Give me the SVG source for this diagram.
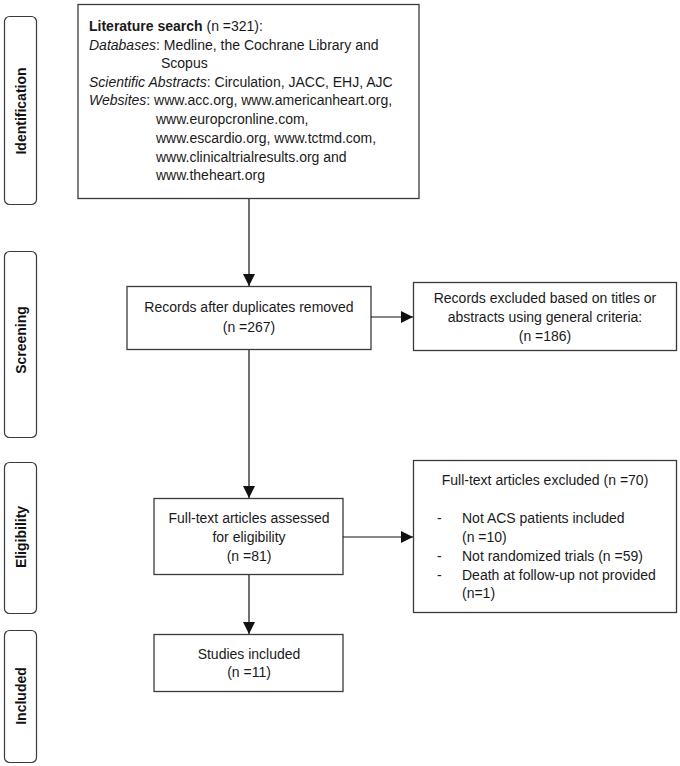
<svg xmlns="http://www.w3.org/2000/svg" width="680" height="766" viewBox="0 0 680 766">
<style>
.box{fill:#fff;stroke:#3a3a3a;stroke-width:1.3}
.side{fill:#fff;stroke:#3a3a3a;stroke-width:1.2}
.t{font-family:"Liberation Sans",Arial,sans-serif;font-size:14px;fill:#1a1a1a}
.c{text-anchor:middle}
.lab{font-family:"Liberation Sans",Arial,sans-serif;font-size:14px;font-weight:bold;fill:#111;text-anchor:middle}
.con{stroke:#111;stroke-width:1.2;fill:none;marker-end:url(#ah)}
</style>
<defs>
<marker id="ah" markerUnits="userSpaceOnUse" markerWidth="12" markerHeight="12" viewBox="0 0 12 12" refX="12" refY="6" orient="auto">
<path d="M0,0 L12,6 L0,12 Z" fill="#111"/>
</marker>
</defs>
<rect width="680" height="766" fill="#fff"/>

<g id="side-identification">
<rect class="side" x="4.5" y="16.5" width="32" height="188" rx="5"/>
<text class="lab" transform="translate(26,111) rotate(-90)">Identification</text>
</g>
<g id="side-screening">
<rect class="side" x="4.5" y="251.5" width="32" height="186" rx="5"/>
<text class="lab" transform="translate(26,340) rotate(-90)">Screening</text>
</g>
<g id="side-eligibility">
<rect class="side" x="4.5" y="462.5" width="32" height="151" rx="5"/>
<text class="lab" transform="translate(26,537) rotate(-90)">Eligibility</text>
</g>
<g id="side-included">
<rect class="side" x="4.5" y="630.5" width="32" height="132" rx="5"/>
<text class="lab" transform="translate(26,696) rotate(-90)">Included</text>
</g>

<g id="literature">
<rect class="box" x="78" y="4.5" width="341" height="194"/>
<text class="t" x="89" y="31"><tspan font-weight="bold">Literature search</tspan> (n =321):</text>
<text class="t" x="89" y="50"><tspan font-style="italic">Databases</tspan>: Medline, the Cochrane Library and</text>
<text class="t" x="161" y="68">Scopus</text>
<text class="t" x="89" y="87"><tspan font-style="italic">Scientific Abstracts</tspan>: Circulation, JACC, EHJ, AJC</text>
<text class="t" x="89" y="105"><tspan font-style="italic">Websites</tspan>: www.acc.org, www.americanheart.org,</text>
<text class="t" x="156" y="124">www.europcronline.com,</text>
<text class="t" x="156" y="143">www.escardio.org, www.tctmd.com,</text>
<text class="t" x="156" y="162">www.clinicaltrialresults.org and</text>
<text class="t" x="156" y="180">www.theheart.org</text>
</g>

<g id="records">
<rect class="box" x="127" y="286.5" width="244" height="63"/>
<text class="t c" x="249" y="312">Records after duplicates removed</text>
<text class="t c" x="249" y="332">(n =267)</text>
</g>

<g id="excluded1">
<rect class="box" x="413.5" y="282.5" width="263" height="68"/>
<text class="t c" x="545" y="303">Records excluded based on titles or</text>
<text class="t c" x="545" y="322">abstracts using general criteria:</text>
<text class="t c" x="545" y="341">(n =186)</text>
</g>

<g id="fulltext">
<rect class="box" x="154" y="498.5" width="189" height="76"/>
<text class="t c" x="249" y="523">Full-text articles assessed</text>
<text class="t c" x="249" y="542">for eligibility</text>
<text class="t c" x="249" y="561">(n =81)</text>
</g>

<g id="excluded2">
<rect class="box" x="413.5" y="460.5" width="263" height="152"/>
<text class="t c" x="545" y="485">Full-text articles excluded (n =70)</text>
<text class="t" x="437" y="523">-</text>
<text class="t" x="462" y="523">Not ACS patients included</text>
<text class="t" x="462" y="542">(n =10)</text>
<text class="t" x="437" y="561">-</text>
<text class="t" x="462" y="561">Not randomized trials (n =59)</text>
<text class="t" x="437" y="580">-</text>
<text class="t" x="462" y="580">Death at follow-up not provided</text>
<text class="t" x="462" y="598">(n=1)</text>
</g>

<g id="studies">
<rect class="box" x="154" y="634.5" width="189" height="57"/>
<text class="t c" x="249" y="659">Studies included</text>
<text class="t c" x="249" y="677">(n =11)</text>
</g>

<g id="connectors">
<line class="con" x1="249" y1="199" x2="249" y2="286"/>
<line class="con" x1="371" y1="317" x2="413" y2="317"/>
<line class="con" x1="249" y1="350" x2="249" y2="498"/>
<line class="con" x1="343" y1="537" x2="413" y2="537"/>
<line class="con" x1="249" y1="575" x2="249" y2="634"/>
</g>
</svg>
